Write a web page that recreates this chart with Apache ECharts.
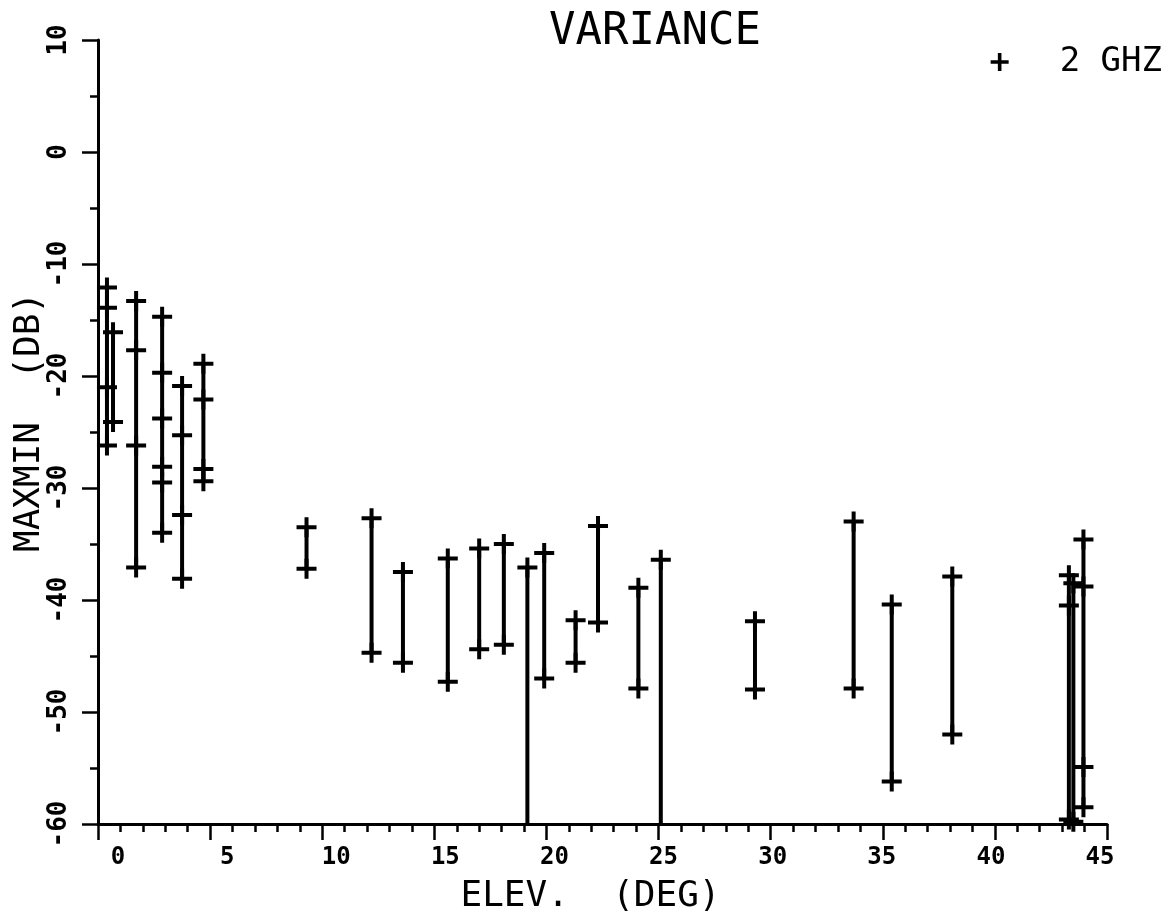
<!DOCTYPE html>
<html>
<head>
<meta charset="utf-8">
<script src="https://cdn.jsdelivr.net/npm/echarts@6/dist/echarts.min.js"></script>
<style>
  html, body { margin: 0; padding: 0; background: #fff; }
  #chart { width: 1171px; height: 917px; }
</style>
</head>
<body>
<div id="chart"></div>
<script>
// Elevation angles (deg) of each measurement run
const elevations = [0.4, 0.67, 1.7, 2.86, 3.75, 4.7, 9.3, 12.2, 13.6, 15.6, 17.0, 18.1,
  19.15, 19.9, 21.3, 22.3, 24.1, 25.1, 29.3, 33.7, 35.4, 38.1, 43.3, 43.5, 43.95];

// MAXMIN readings (dB) taken at each elevation, 2 GHz
const readings = [
  [-12.1, -13.9, -21.0, -26.2],
  [-16.1, -24.1],
  [-13.3, -17.7, -26.2, -37.1],
  [-14.7, -19.7, -23.8, -28.1, -29.5, -34.0],
  [-20.9, -25.3, -32.4, -38.1],
  [-18.9, -22.1, -28.3, -29.4],
  [-33.5, -37.2],
  [-32.7, -44.7],
  [-37.5, -45.6],
  [-36.3, -47.3],
  [-35.4, -44.4],
  [-35.0, -44.0],
  [-37.1, -66.0],
  [-35.8, -47.0],
  [-41.8, -45.6],
  [-33.4, -42.0],
  [-38.9, -47.9],
  [-36.4, -66.0],
  [-41.9, -48.0],
  [-33.0, -47.9],
  [-40.4, -56.2],
  [-37.9, -52.0],
  [-37.8, -40.5, -59.6],
  [-38.5, -59.8],
  [-34.6, -38.8, -54.9, -58.5]
];

const xTicks = ['0', '5', '10', '15', '20', '25', '30', '35', '40', '45'];
const yTicks = ['-60', '-50', '-40', '-30', '-20', '-10', '0', '10'];
const seriesName = '2 GHZ';

const plusPath = 'path://M8,0H12V8H20V12H12V20H8V12H0V8H8Z';
const monoFont = '"DejaVu Sans Mono", monospace';

// one scatter point per reading, one vertical span per elevation
const points = [];
const spans = [];
elevations.forEach((e, i) => {
  readings[i].forEach(v => points.push([e, v]));
  spans.push([e, Math.min(...readings[i]), Math.max(...readings[i])]);
});

// plotter-style tick labels drift slightly left of their ticks along the axis
const xLabelRich = {};
xTicks.forEach((t, i) => {
  const shift = 20 - 3 * i;
  xLabelRich['t' + i] = {
    fontFamily: monoFont, fontSize: 24, fontWeight: 'bold', color: '#000',
    padding: shift >= 0 ? [0, 0, 0, 2 * shift] : [0, -2 * shift, 0, 0]
  };
});

const chart = echarts.init(document.getElementById('chart'), null, { renderer: 'canvas' });
chart.setOption({
  backgroundColor: '#fff',
  animation: false,
  title: {
    text: 'VARIANCE',
    left: 650,
    textAlign: 'center',
    top: 6,
    textStyle: { fontFamily: monoFont, fontSize: 44, fontWeight: 'normal', color: '#000' }
  },
  legend: {
    right: 4,
    top: 40,
    data: [{ name: seriesName, icon: plusPath }],
    itemWidth: 18,
    itemHeight: 18,
    itemStyle: { opacity: 1 },
    textStyle: { fontFamily: monoFont, fontSize: 34, color: '#000', padding: [0, 0, 0, 46] }
  },
  grid: { left: 98, right: 64, top: 40, bottom: 93, containLabel: false, outerBoundsMode: 'none' },
  xAxis: {
    type: 'value',
    min: 0, max: 45, interval: 5,
    name: 'ELEV.  (DEG)',
    nameLocation: 'middle',
    nameGap: 55,
    nameTextStyle: { fontFamily: monoFont, fontSize: 36, color: '#000', padding: [0, 24, 0, 0] },
    axisLine: { onZero: false, lineStyle: { color: '#000', width: 3 } },
    axisTick: { inside: false, length: 16, lineStyle: { color: '#000', width: 2.5 } },
    minorTick: { show: true, splitNumber: 5, length: 8, lineStyle: { color: '#000', width: 2.5 } },
    splitLine: { show: false },
    axisLabel: {
      margin: 22,
      rich: xLabelRich,
      formatter: v => {
        const i = Math.round(v / 5);
        return '{t' + i + '|' + xTicks[i] + '}';
      }
    }
  },
  yAxis: {
    type: 'value',
    min: -60, max: 10, interval: 10,
    axisLine: { onZero: false, lineStyle: { color: '#000', width: 3 } },
    axisTick: { inside: false, length: 16, lineStyle: { color: '#000', width: 2.5 } },
    minorTick: { show: true, splitNumber: 2, length: 8, lineStyle: { color: '#000', width: 2.5 } },
    splitLine: { show: false },
    axisLabel: {
      rotate: 90,
      margin: 26,
      fontFamily: monoFont, fontSize: 26, fontWeight: 'bold', color: '#000',
      formatter: v => yTicks[Math.round((v + 60) / 10)]
    }
  },
  graphic: [{
    type: 'text',
    x: 30, y: 422,
    rotation: Math.PI / 2,
    style: {
      text: 'MAXMIN  (DB)',
      fontFamily: monoFont, fontSize: 36, fill: '#000',
      align: 'center', verticalAlign: 'middle'
    }
  }],
  series: [
    {
      type: 'custom',
      name: 'span',
      clip: true,
      data: spans,
      renderItem: (params, api) => {
        const top = api.coord([api.value(0), api.value(2)]);
        const bot = api.coord([api.value(0), api.value(1)]);
        const cs = params.coordSys;
        return {
          type: 'line',
          shape: { x1: top[0], y1: top[1], x2: bot[0], y2: Math.min(bot[1], cs.y + cs.height) },
          style: { stroke: '#000', lineWidth: 4 }
        };
      }
    },
    {
      type: 'scatter',
      name: seriesName,
      clip: true,
      symbol: plusPath,
      symbolSize: 20,
      itemStyle: { color: '#000', opacity: 1 },
      data: points
    }
  ]
});
</script>
</body>
</html>
